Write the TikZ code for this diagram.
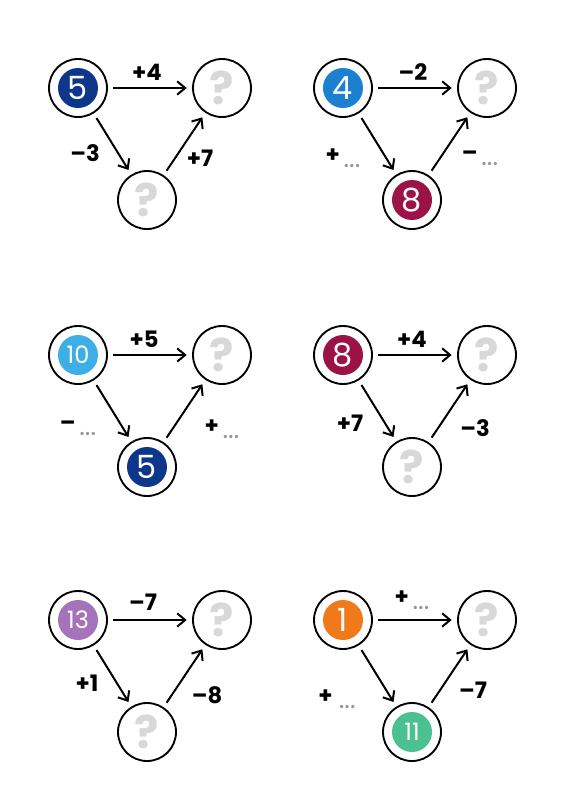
\documentclass[tikz,border=0pt]{standalone}
\usepackage{fontspec}
\setmainfont{Poppins}
\usetikzlibrary{arrows.meta}

\definecolor{navy}{RGB}{14,55,140}
\definecolor{midblue}{RGB}{28,128,208}
\definecolor{wine}{RGB}{155,18,70}
\definecolor{sky}{RGB}{60,175,230}
\definecolor{lilac}{RGB}{165,115,185}
\definecolor{tangerine}{RGB}{240,122,25}
\definecolor{mint}{RGB}{75,192,145}
\definecolor{qgray}{RGB}{216,216,216}
\definecolor{dotgray}{RGB}{150,150,150}

\newcommand{\blank}{\raisebox{-0.4ex}{\textcolor{dotgray}{\mdseries\fontsize{20}{20}\selectfont...}}}

\tikzset{
  ring/.style={circle, draw, line width=1.4pt, minimum size=43.5pt, inner sep=0pt, fill=white},
  given/.style={ring, text=white, font=\fontsize{24}{24}\selectfont,
    path picture={\fill[#1] (path picture bounding box.center) circle (15pt);}},
  twodigit/.style={font=\fontsize{18}{18}\selectfont},
  ask/.style={ring, text=qgray, font=\bfseries\fontsize{34}{34}\selectfont},
  arr/.style={-{Straight Barb[length=6pt,width=10pt]}, line width=1.5pt, shorten >=4pt, shorten <=4pt},
  op/.style={font=\bfseries\fontsize{17}{17}\selectfont}
}

\begin{document}
\begin{tikzpicture}[x=0.75pt, y=-0.75pt]
  \useasboundingbox (0,0) rectangle (576,800);

  % top left
  \begin{scope}[shift={(78,88)}]
    \node[given=navy] (a1) at (0,0) {5};
    \node[ask] (b1) at (144,0) {?};
    \node[ask] (c1) at (69,112) {?};
    \draw[arr] (a1) -- (b1);
    \draw[arr] (a1) -- (c1);
    \draw[arr] (c1) -- (b1);
    \node[op] (t1) at (69,-16) {+4};
    \node[op] (l1) at (7,65) {--3};
    \node[op] (r1) at (122,70) {+7};
  \end{scope}

  % top right
  \begin{scope}[shift={(343,88)}]
    \node[given=midblue] (a2) at (0,0) {4};
    \node[ask] (b2) at (144,0) {?};
    \node[given=wine] (c2) at (69,112) {8};
    \draw[arr] (a2) -- (b2);
    \draw[arr] (a2) -- (c2);
    \draw[arr] (c2) -- (b2);
    \node[op] (t2) at (70,-16) {--2};
    \node[op] (l2) at (0,70) {+\,\blank};
    \node[op] (r2) at (137,70) {--\,\blank};
  \end{scope}

  % middle left
  \begin{scope}[shift={(78,355)}]
    \node[given=sky, twodigit] (a3) at (0,0) {10};
    \node[ask] (b3) at (144,0) {?};
    \node[given=navy] (c3) at (69,112) {5};
    \draw[arr] (a3) -- (b3);
    \draw[arr] (a3) -- (c3);
    \draw[arr] (c3) -- (b3);
    \node[op] (t3) at (66,-16) {+5};
    \node[op] (l3) at (0,73) {--\,\blank};
    \node[op] (r3) at (144,74) {+\,\blank};
  \end{scope}

  % middle right
  \begin{scope}[shift={(343,355)}]
    \node[given=wine] (a4) at (0,0) {8};
    \node[ask] (b4) at (144,0) {?};
    \node[ask] (c4) at (69,112) {?};
    \draw[arr] (a4) -- (b4);
    \draw[arr] (a4) -- (c4);
    \draw[arr] (c4) -- (b4);
    \node[op] (t4) at (69,-16) {+4};
    \node[op] (l4) at (7,68) {+7};
    \node[op] (r4) at (132,73) {--3};
  \end{scope}

  % bottom left
  \begin{scope}[shift={(78,620)}]
    \node[given=lilac, twodigit] (a5) at (0,0) {13};
    \node[ask] (b5) at (144,0) {?};
    \node[ask] (c5) at (69,112) {?};
    \draw[arr] (a5) -- (b5);
    \draw[arr] (a5) -- (c5);
    \draw[arr] (c5) -- (b5);
    \node[op] (t5) at (65,-18) {--7};
    \node[op] (l5) at (9,63) {+1};
    \node[op] (r5) at (129,75) {--8};
  \end{scope}

  % bottom right
  \begin{scope}[shift={(343,620)}]
    \node[given=tangerine] (a6) at (0,0) {1};
    \node[ask] (b6) at (144,0) {?};
    \node[given=mint, twodigit] (c6) at (69,112) {11};
    \draw[arr] (a6) -- (b6);
    \draw[arr] (a6) -- (c6);
    \draw[arr] (c6) -- (b6);
    \node[op] (t6) at (69,-20) {+\,\blank};
    \node[op] (l6) at (-6,79) {+\;\blank};
    \node[op] (r6) at (130,70) {--7};
  \end{scope}
\end{tikzpicture}
\end{document}
